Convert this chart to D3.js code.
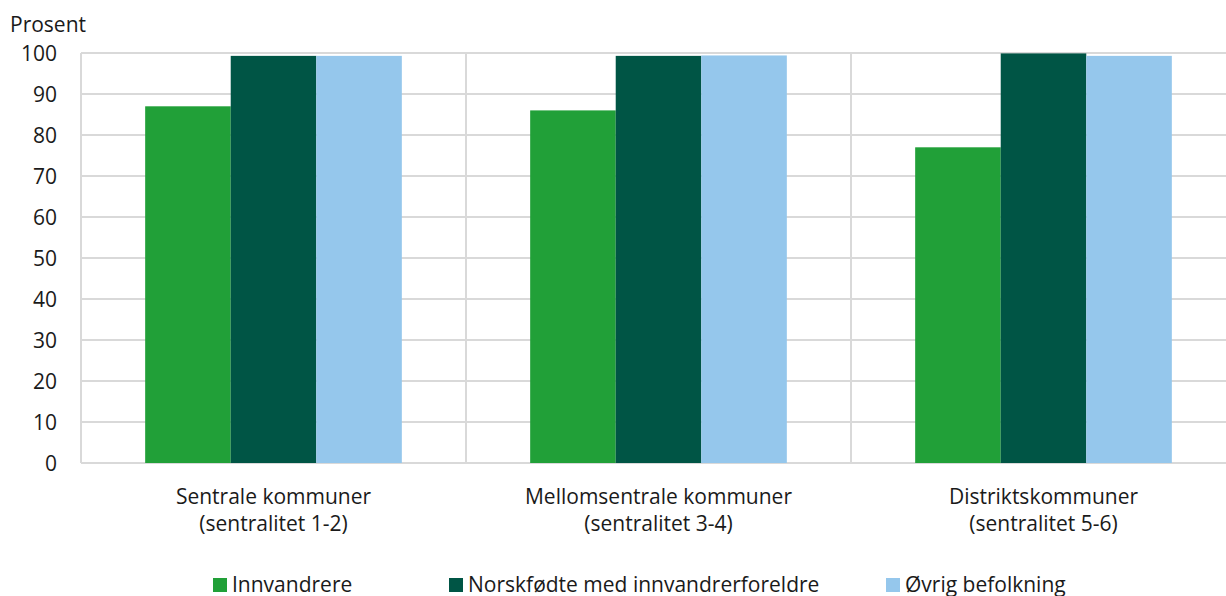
<!DOCTYPE html>
<html lang="no">
  <head>
    <meta charset="utf-8">
    <script src="https://cdn.jsdelivr.net/npm/d3@7"></script>
    <title>Prosent etter sentralitet</title>
    <style>
      body { margin: 0; background: #fff; }
      svg { display: block; font-family: "Open Sans", sans-serif; }
      .grid line { stroke: #d9d9d9; stroke-width: 2; }
      .tick text { fill: #1a1a1a; font-size: 21px; font-family: "Open Sans", sans-serif; }
      .lbl { fill: #1a1a1a; font-size: 21px; }
    </style>
  </head>
  <body>
    <div id="chart"></div>
    <script>
      const categories = [
        ['Sentrale kommuner', '(sentralitet 1-2)'],
        ['Mellomsentrale kommuner', '(sentralitet 3-4)'],
        ['Distriktskommuner', '(sentralitet 5-6)']
      ];
      const seriesNames = ['Innvandrere', 'Norskfødte med innvandrerforeldre', 'Øvrig befolkning'];
      const innvandrere = [87, 86, 77];
      const norskfodte = [99.3, 99.3, 99.9];
      const ovrig = [99.3, 99.4, 99.3];
      const yTicks = [0, 10, 20, 30, 40, 50, 60, 70, 80, 90, 100];
      const colors = ['#21a038', '#005545', '#95c7ec'];

      const series = [innvandrere, norskfodte, ovrig];
      const W = 1226, H = 596;
      const plot = {left: 81, right: 1236, top: 53, bottom: 463};

      const svg = d3.select('#chart').append('svg')
        .attr('width', W).attr('height', H);

      const x = d3.scaleBand()
        .domain(d3.range(categories.length))
        .range([plot.left, plot.right])
        .paddingInner(0).paddingOuter(0);
      const xs = d3.scaleBand()
        .domain(d3.range(series.length))
        .range([0, x.bandwidth()])
        .paddingOuter(0.75);
      const y = d3.scaleLinear().domain([0, 100]).range([plot.bottom, plot.top]);

      // horizontal gridlines
      const grid = svg.append('g').attr('class', 'grid');
      grid.selectAll('line.h').data(yTicks).join('line')
        .attr('class', 'h')
        .attr('x1', plot.left).attr('x2', plot.right)
        .attr('y1', d => y(d)).attr('y2', d => y(d));
      // vertical lines: left edge and category dividers
      grid.selectAll('line.v').data(d3.range(categories.length)).join('line')
        .attr('class', 'v')
        .attr('x1', d => x(d)).attr('x2', d => x(d))
        .attr('y1', y(100)).attr('y2', y(0));

      // y axis labels
      const yAxis = svg.append('g')
        .attr('transform', `translate(${plot.left - 24},0)`)
        .call(d3.axisLeft(y).tickValues(yTicks).tickSize(0).tickPadding(0));
      yAxis.select('.domain').remove();
      yAxis.selectAll('.tick text').attr('dy', '0.36em');

      svg.append('text').attr('class', 'lbl')
        .attr('x', 10).attr('y', 32).text('Prosent');

      // bars
      series.forEach((vals, si) => {
        svg.append('g').selectAll('rect').data(vals).join('rect')
          .attr('x', (d, i) => x(i) + xs(si))
          .attr('width', xs.bandwidth())
          .attr('y', d => y(d))
          .attr('height', d => y(0) - y(d))
          .attr('fill', colors[si]);
      });

      // category labels
      const cl = svg.append('g').selectAll('text').data(categories).join('text')
        .attr('class', 'lbl')
        .attr('text-anchor', 'middle')
        .attr('x', (d, i) => x(i) + x.bandwidth() / 2)
        .attr('y', 504);
      cl.append('tspan').text(d => d[0]);
      cl.append('tspan')
        .attr('x', (d, i) => x(i) + x.bandwidth() / 2)
        .attr('dy', 27).text(d => d[1]);

      // legend
      const legendX = [213, 449, 886];
      const lg = svg.append('g').selectAll('g').data(seriesNames).join('g')
        .attr('transform', (d, i) => `translate(${legendX[i]},578)`);
      lg.append('rect').attr('width', 14).attr('height', 14)
        .attr('fill', (d, i) => colors[i]);
      lg.append('text').attr('class', 'lbl')
        .attr('x', 19).attr('y', 14).text(d => d);
    </script>
  </body>
</html>
